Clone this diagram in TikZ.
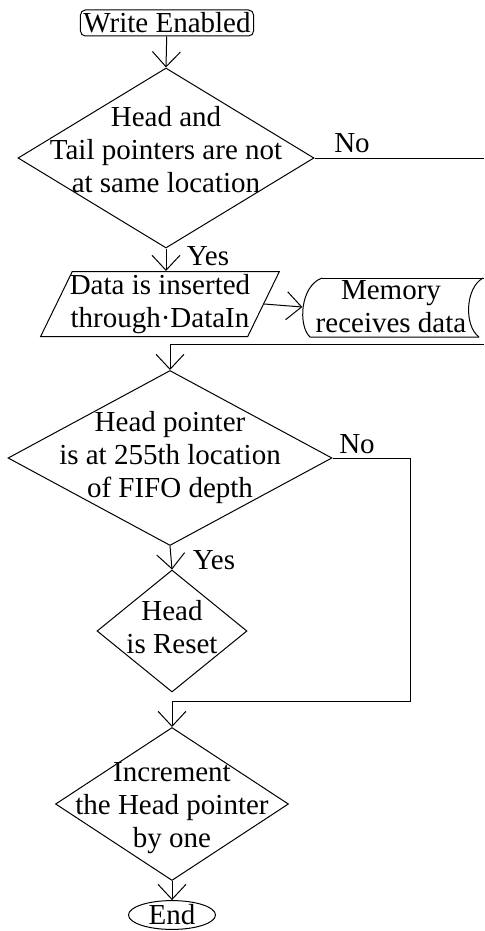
\documentclass[tikz,border=0pt]{standalone}
\usepackage{fontspec}
\setmainfont{Liberation Serif}
\usetikzlibrary{shapes.geometric,arrows.meta}
\tikzset{
  flow/.style={line width=0.5pt},
  link/.style={flow, -{Straight Barb[length=7.5pt,width=14pt]}},
  terminal/.style={rectangle, rounded corners=2.5pt, draw, flow, inner xsep=1.5pt, inner ysep=0pt,
    minimum height=13pt},
  decision/.style={diamond, draw, flow, inner sep=0pt},
  io box/.style={trapezium, draw, flow, trapezium left angle=64, trapezium right angle=116,
    inner xsep=-5pt, inner ysep=0pt, minimum height=32.5pt, align=center},
}
\begin{document}
\begin{tikzpicture}[x=0.5pt, y=-0.5pt, every node/.style={font=\fontsize{14.5}{16.5}\selectfont}]
  \useasboundingbox (0,0) rectangle (484,931);
  % shapes
  \node[terminal] (start) at (167,23) {Write Enabled};
  \node[decision, minimum width=148pt, minimum height=90pt] (d1) at (166,158) {};
  \node[align=center] (d1 text) at (166,150) {Head and\\Tail pointers are not\\at same location};
  \node[io box] (insert) at (160,304) {Data is inserted\\through·DataIn};
  \node[align=center, inner xsep=6.5pt] (mem) at (391,307) {Memory\\receives data};
  \draw[flow] (322,278) -- (484,278);
  \draw[flow] (322,278) .. controls (300,286) and (298,326) .. (310,337) -- (479,337);
  \draw[flow] (483,278) .. controls (465,288) and (464,326) .. (479,337);
  \node[decision, minimum width=162pt, minimum height=87.5pt] (d2) at (170,458) {};
  \node[align=center] (d2 text) at (170,458) {Head pointer\\is at 255th location\\of FIFO depth};
  \node[decision, minimum width=75pt, minimum height=61pt] (d3) at (172,631) {};
  \node[align=center] (d3 text) at (172,627) {Head\\is Reset};
  \node[decision, minimum width=116.5pt, minimum height=76.5pt] (d4) at (172,804) {};
  \node[align=center] (d4 text) at (172,808) {Increment\\the Head pointer\\by one};
  \node[ellipse, draw, flow, inner sep=0pt, minimum width=43.5pt, minimum height=13pt] (end) at (172,915) {End};
  % connectors
  \coordinate (no exit) at (484,158);
  \coordinate (no back) at (484,344);
  \draw[link] (start) -- (d1.north);
  \draw[flow] (d1.east) -- (no exit);
  \draw[link] (d1.south) -- (insert.north -| d1.south);
  \draw[link] (insert.east) -- (mem.west);
  \draw[link] (no back) -| (d2.north);
  \draw[link] (d2.south) -- (d3.north);
  \draw[link] (d2.east) -- (410,458) |- (172,701) -- (d4.north);
  \draw[link] (d4.south) -- (end.north);
  % branch labels
  \node at (352,143) {No};
  \node at (208,256) {Yes};
  \node at (357,444) {No};
  \node at (214,560) {Yes};
\end{tikzpicture}
\end{document}
